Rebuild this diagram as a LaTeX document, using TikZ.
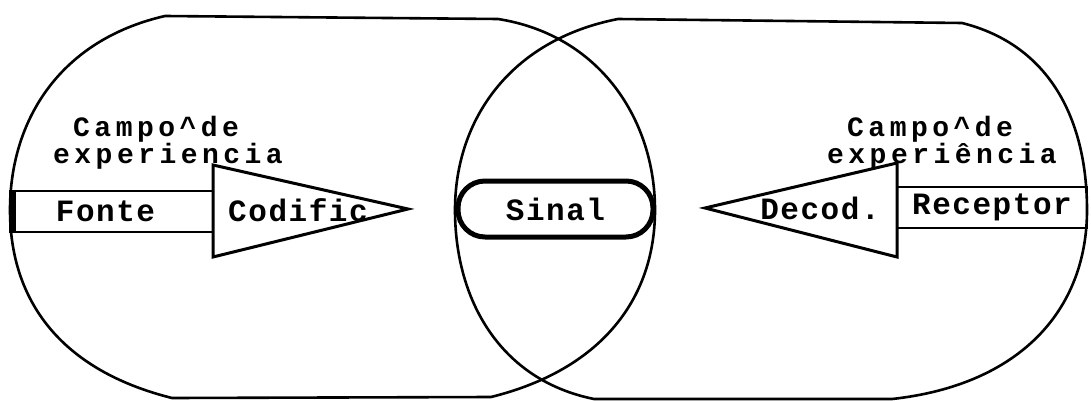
\documentclass[tikz,border=0pt]{standalone}
\usepackage{fontspec}
\usetikzlibrary{positioning}
\newfontfamily\dotfont{Liberation Mono}[LetterSpace=5]
\newfontfamily\dotsmall{Liberation Mono}[LetterSpace=16]
\tikzset{
  fieldline/.style={draw=black,line width=2.6pt,line join=round},
  wedgeline/.style={draw=black,line width=3pt,line join=miter},
  barbox/.style={draw=black,line width=2.4pt,inner sep=0pt,
    font=\dotfont\bfseries\fontsize{31}{33}\selectfont},
  signalbox/.style={draw=black,line width=5pt,rounded corners=27pt,inner sep=0pt,
    minimum width=195pt,minimum height=56pt,
    font=\dotfont\bfseries\fontsize{31}{33}\selectfont},
  boxtext/.style={inner sep=0pt,font=\dotfont\bfseries\fontsize{31}{33}\selectfont},
  fieldtext/.style={inner sep=0pt,align=left,
    font=\dotsmall\bfseries\fontsize{28}{19}\selectfont}
}
\begin{document}
\begin{tikzpicture}[x=1pt,y=-1pt]
  \useasboundingbox (0,0) rectangle (1091,401);
  % fields of experience
  \draw[fieldline] (165,16) -- (498,19) .. controls (600,35) and (655,120) .. (655,210)
    .. controls (655,300) and (600,370) .. (491,397) -- (172,398)
    .. controls (60,370) and (10,300) .. (10,210)
    .. controls (10,120) and (60,40) .. (165,16) -- cycle;
  \draw[fieldline] (618,19) -- (962,23) .. controls (1050,45) and (1087,120) .. (1087,210)
    .. controls (1087,310) and (1020,385) .. (892,399) -- (594,399)
    .. controls (500,380) and (455,300) .. (455,210)
    .. controls (455,120) and (510,40) .. (618,19) -- cycle;
  \node[fieldtext,anchor=west] (campoleft) at (53,143)
    {\hspace*{20pt}Campo\textasciicircum de\\experiencia};
  \node[fieldtext,anchor=west] (camporight) at (827,143)
    {\hspace*{20pt}Campo\textasciicircum de\\experiência};
  % source side
  \node[barbox,minimum width=199pt,minimum height=41pt] (fonte) at (113.5,211.5)
    {Fonte\hspace*{16pt}};
  \draw[line width=7pt] (fonte.south west) -- (fonte.north west);
  \draw[wedgeline] (213,165) -- (408,209) -- (213,257) -- cycle;
  \node[boxtext] (codific) at (298,210) {Codific};
  % signal
  \node[signalbox] (sinal) at (555.5,209) {Sinal};
  % receiver side
  \draw[wedgeline] (897,163) -- (705,208) -- (897,257) -- cycle;
  \node[boxtext] (decod) at (820,208) {Decod.};
  \node[barbox,minimum width=190pt,minimum height=41pt] (receptor) at (992,207.5)
    {Receptor};
\end{tikzpicture}
\end{document}
